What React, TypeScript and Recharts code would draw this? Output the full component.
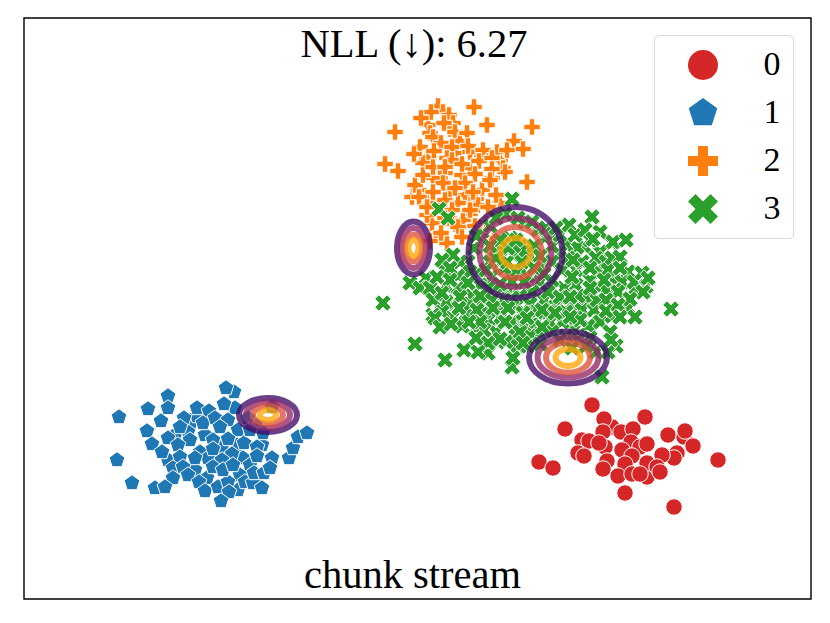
import { Legend, ReferenceArea, Scatter, ScatterChart, XAxis, YAxis } from "recharts";

// all values, axes run in the figure's own units
const class0: [number, number][] = [
  [592, 405], [645, 417], [565, 429], [612, 427], [604, 419], [603, 432], [621, 432], [633, 429], [668, 435],
  [684, 437], [685, 431], [693, 446], [582, 440], [589, 441], [605, 447], [599, 443], [631, 442], [640, 447],
  [647, 444], [622, 450], [578, 453], [584, 456], [677, 453], [674, 458], [662, 455], [607, 461], [632, 456],
  [647, 477], [625, 464], [647, 463], [539, 462], [553, 468], [603, 469], [657, 467], [660, 472], [618, 476],
  [632, 474], [640, 474], [718, 460], [625, 493], [674, 507],
];

const class1: [number, number][] = [
  [190, 425], [205, 435], [237, 445], [222, 447], [200, 452], [208, 458], [243, 458], [250, 465], [262, 445],
  [168, 460], [240, 475], [195, 470], [238, 490], [207, 478], [188, 432], [175, 435], [235, 408], [255, 425],
  [234, 392], [226, 388], [168, 396], [224, 404], [168, 408], [148, 409], [119, 417], [197, 416], [197, 408],
  [209, 411], [161, 421], [147, 431], [184, 418], [180, 427], [203, 423], [215, 418], [228, 420], [220, 427],
  [238, 430], [168, 438], [152, 444], [190, 440], [213, 440], [228, 439], [244, 443], [162, 452], [178, 445],
  [213, 449], [180, 457], [195, 458], [232, 454], [222, 460], [213, 467], [272, 458], [257, 447], [257, 456],
  [289, 458], [293, 448], [298, 437], [307, 433], [117, 460], [173, 468], [183, 467], [188, 475], [173, 478],
  [132, 483], [155, 488], [165, 487], [199, 482], [205, 491], [218, 487], [228, 482], [229, 492], [221, 501],
  [245, 482], [253, 483], [254, 473], [264, 473], [262, 488], [223, 470], [270, 468], [233, 465], [248, 418],
  [272, 407], [263, 433], [250, 430],
];

const class2: [number, number][] = [
  [438, 106], [443, 112], [449, 115], [428, 125], [453, 123], [450, 129], [455, 132], [430, 133], [433, 137],
  [460, 141], [420, 147], [441, 143], [455, 153], [452, 147], [447, 158], [427, 158], [423, 163], [445, 173],
  [462, 175], [470, 168], [452, 160], [500, 160], [503, 168], [492, 178], [482, 155], [470, 152], [497, 152],
  [440, 178], [433, 178], [450, 190], [465, 195], [482, 190], [476, 199], [425, 197], [412, 197], [419, 190],
  [432, 202], [445, 200], [458, 203], [452, 210], [470, 214], [488, 207], [478, 205], [432, 223], [427, 215],
  [445, 218], [455, 224], [463, 220], [475, 226], [458, 227], [441, 238], [447, 243], [462, 237], [430, 241],
  [500, 203], [495, 212], [486, 222], [480, 235], [494, 238], [486, 245], [415, 185], [423, 175], [505, 172],
  [474, 107], [487, 125], [532, 127],
  [395, 132], [431, 112], [421, 118], [444, 123], [467, 133], [468, 146], [483, 150], [514, 141], [523, 149],
  [507, 150], [414, 154], [434, 151], [385, 164], [398, 171], [433, 167], [445, 167], [462, 164], [479, 161],
  [492, 158], [492, 169], [475, 174], [490, 180], [527, 182], [443, 183], [465, 183], [455, 188], [433, 192],
  [419, 197], [473, 192], [496, 195], [427, 207], [470, 210], [488, 207], [441, 233],
];

const class3: [number, number][] = [
  [612, 243], [600, 252], [585, 247], [577, 247], [566, 245], [560, 253], [552, 246], [545, 238], [538, 230],
  [525, 222], [505, 214], [490, 226], [482, 240], [474, 248], [468, 262], [478, 272], [490, 262], [500, 250],
  [510, 238], [520, 246], [530, 256], [540, 268], [552, 262], [562, 270], [576, 270], [582, 262], [596, 258],
  [600, 272], [614, 280], [628, 272], [598, 288], [586, 298], [576, 285], [564, 288], [552, 280], [540, 282],
  [528, 276], [516, 272], [504, 268], [492, 276], [480, 285], [472, 296], [484, 300], [496, 294], [508, 290],
  [520, 296], [532, 292], [544, 300], [556, 306], [570, 305], [582, 310], [594, 310], [600, 322], [588, 326],
  [574, 330], [562, 322], [550, 322], [536, 322], [524, 326], [512, 322], [500, 318], [488, 320], [476, 328],
  [466, 314], [454, 304], [446, 302], [436, 294], [426, 278], [446, 272], [458, 276], [460, 262], [446, 286],
  [458, 288], [470, 304], [452, 318], [462, 326], [484, 312], [500, 306], [516, 306], [530, 304], [548, 292],
  [562, 298], [578, 296], [590, 280], [606, 262], [622, 282], [636, 288], [646, 286], [628, 308], [612, 316],
  [590, 338], [578, 340], [566, 336], [552, 332], [540, 334], [530, 336], [516, 336], [506, 342], [496, 332],
  [484, 330], [610, 332], [616, 346], [596, 352], [608, 352], [518, 346], [528, 346], [514, 256], [507, 262],
  [522, 262], [516, 248], [526, 250], [508, 248], [516, 240], [500, 240], [496, 258], [490, 246], [486, 270],
  [534, 246], [540, 256], [534, 268], [524, 282], [512, 282], [500, 284], [546, 228], [532, 222], [518, 218],
  [496, 218], [476, 236], [470, 272], [488, 288], [544, 274], [553, 234], [560, 235], [568, 258], [590, 240],
  [600, 232], [615, 290], [606, 290], [597, 300], [576, 318], [566, 312], [548, 312], [536, 312], [524, 316],
  [512, 298], [504, 300], [492, 300], [480, 296], [612, 258], [560, 340], [572, 348], [586, 346], [540, 344],
  [592, 217], [569, 225], [575, 235], [585, 230], [593, 239], [613, 242], [626, 240], [620, 257], [608, 270],
  [620, 268], [604, 280], [618, 292], [634, 282], [643, 292], [642, 273], [648, 278], [630, 299], [606, 300],
  [606, 311], [618, 305], [620, 317], [635, 317], [671, 309], [590, 288], [590, 268], [573, 260], [572, 277],
  [560, 297], [570, 297], [580, 320], [556, 228], [611, 340], [602, 377], [512, 367], [513, 358], [488, 353],
  [488, 343], [520, 332], [523, 343], [493, 308], [508, 308], [525, 313], [542, 310], [555, 313], [542, 327],
  [570, 317], [512, 199], [439, 209], [448, 218], [453, 255], [442, 260], [410, 283], [420, 288], [383, 303],
  [430, 288], [450, 268], [437, 277], [450, 280], [468, 283], [433, 300], [442, 293], [460, 297], [459, 308],
  [442, 312], [433, 315], [477, 310], [523, 313], [415, 344], [445, 360], [464, 350], [478, 352], [476, 338],
  [500, 339], [505, 322], [480, 322], [469, 322], [435, 318], [440, 327], [451, 324], [527, 318],
];

const seriesNames = ["0", "1", "2", "3"];
const seriesColors = ["#d62728", "#1f77b4", "#ff7f0e", "#2ca02c"];
const seriesPoints = [class0, class1, class2, class3];

// contour rings per mixture component: centre, then [rx, ry] from outer to inner
const componentCenters: [number, number][] = [[413.5, 248], [515.5, 252.5], [568, 357.5], [268, 415]];
const componentRings: [number, number][][] = [
  [[16.5, 26.5], [12.5, 20], [8.5, 13.5], [5, 8]],
  [[47, 45.5], [36, 34.5], [26, 25.5], [15, 14.5]],
  [[39, 26], [30.5, 20], [22, 15], [12.5, 8.5]],
  [[29, 17], [22, 13], [15, 9], [8, 5]],
];
const ringColors = ["#420a68", "#932667", "#dd513a", "#fca50a"];

const titleText = "NLL (↓): 6.27";
const captionText = "chunk stream";

const FONT = '"Liberation Serif", serif';

type Pt = { x: number; y: number; rx?: number; ry?: number };

function markerPath(kind: number, s: number) {
  const u = s / 6;
  if (kind === 0) return `M${-s / 2} 0A${s / 2} ${s / 2} 0 1 1 ${s / 2} 0A${s / 2} ${s / 2} 0 1 1 ${-s / 2} 0Z`;
  if (kind === 1) {
    const r = s / 2;
    return `M0 ${-r}L${0.951 * r} ${-0.309 * r}L${0.588 * r} ${0.809 * r}L${-0.588 * r} ${0.809 * r}L${-0.951 * r} ${-0.309 * r}Z`;
  }
  if (kind === 2) {
    return `M${-u} ${-3 * u}H${u}V${-u}H${3 * u}V${u}H${u}V${3 * u}H${-u}V${u}H${-3 * u}V${-u}H${-u}Z`;
  }
  const v = s / 4;
  return `M${-v} ${-2 * v}L0 ${-v}L${v} ${-2 * v}L${2 * v} ${-v}L${v} 0L${2 * v} ${v}L${v} ${2 * v}L0 ${v}L${-v} ${2 * v}L${-2 * v} ${v}L${-v} 0L${-2 * v} ${-v}Z`;
}

const makeMarker = (kind: number) => (props: any) => (
  <path
    d={markerPath(kind, 16.5)}
    transform={`translate(${props.cx},${props.cy})`}
    fill={seriesColors[kind]}
    stroke="#fff"
    strokeWidth={1}
  />
);

const makeRing = (level: number) => (props: any) => (
  <ellipse
    cx={props.cx}
    cy={props.cy}
    rx={props.payload.rx}
    ry={props.payload.ry}
    fill="none"
    stroke={ringColors[level]}
    strokeOpacity={0.78}
    strokeWidth={6}
  />
);

function LegendBox({ payload }: any) {
  const rows = (payload || []).filter((p: any) => seriesNames.includes(p.value));
  return (
    <div style={{ width: 138, height: 202, border: "1.5px solid #d9d9d9", borderRadius: 5, background: "rgba(255,255,255,0.8)", position: "relative" }}>
      {rows.map((p: any, i: number) => (
        <div key={p.value} style={{ position: "absolute", left: 0, top: 8 + i * 48, width: 138, height: 42 }}>
          <svg width={60} height={42} style={{ position: "absolute", left: 18, top: 0 }}>
            <path d={markerPath(i, 30)} transform="translate(30,21)" fill={seriesColors[i]} />
          </svg>
          <span style={{ position: "absolute", left: 97, top: -1.5, width: 40, textAlign: "center", lineHeight: "42px", fontFamily: FONT, fontSize: 34, color: "#000" }}>
            {p.value}
          </span>
        </div>
      ))}
    </div>
  );
}

export default function App() {
  return (
    <div style={{ position: "absolute", left: 0, top: 0, width: 830, height: 623, background: "#fff" }}>
      <ScatterChart width={830} height={623} margin={{ top: 18, right: 19, bottom: 24, left: 24 }}>
        <XAxis type="number" dataKey="x" domain={[24, 811]} hide allowDataOverflow />
        <YAxis type="number" dataKey="y" domain={[18, 599]} reversed hide allowDataOverflow />
        {seriesPoints.map((pts, i) => (
          <Scatter
            key={seriesNames[i]}
            name={seriesNames[i]}
            data={pts.map(([x, y]): Pt => ({ x, y }))}
            fill={seriesColors[i]}
            shape={makeMarker(i)}
            isAnimationActive={false}
          />
        ))}
        {ringColors.map((c, level) => (
          <Scatter
            key={c}
            name={`level ${level}`}
            legendType="none"
            data={componentCenters.map(([x, y], k): Pt => ({ x, y, rx: componentRings[k][level][0], ry: componentRings[k][level][1] }))}
            shape={makeRing(level)}
            isAnimationActive={false}
          />
        ))}
        <ReferenceArea x1={24} x2={811} y1={18} y2={599} fill="none" stroke="#000" strokeWidth={1.4} ifOverflow="visible" />
        <text x={414} y={57} textAnchor="middle" fontFamily={FONT} fontSize={40.5} fill="#000">{titleText}</text>
        <text x={412.5} y={588} textAnchor="middle" fontFamily={FONT} fontSize={40.5} fill="#000">{captionText}</text>
        <Legend
          layout="vertical"
          align="center"
          verticalAlign="middle"
          content={<LegendBox />}
          wrapperStyle={{ left: 654, top: 35, width: 141, height: 205 }}
        />
      </ScatterChart>
    </div>
  );
}
